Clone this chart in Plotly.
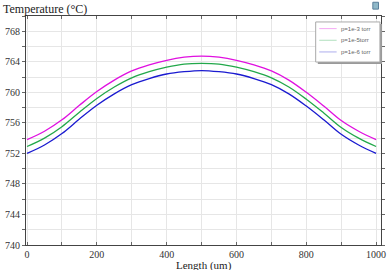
import plotly.graph_objects as go

length_um = [0, 50, 100, 150, 200, 250, 300, 350, 400, 450, 500,
             550, 600, 650, 700, 750, 800, 850, 900, 950, 1000]
temp_1e3 = [753.8, 754.9, 756.4, 758.3, 760.1, 761.6, 762.8, 763.6, 764.2, 764.6, 764.75,
            764.6, 764.2, 763.6, 762.8, 761.6, 760.0, 758.2, 756.3, 754.9, 753.8]
temp_1e5 = [752.9, 754.0, 755.5, 757.4, 759.2, 760.7, 761.9, 762.7, 763.3, 763.7, 763.8,
            763.7, 763.3, 762.7, 761.9, 760.7, 759.1, 757.3, 755.4, 754.0, 752.9]
temp_1e6 = [752.0, 753.1, 754.6, 756.5, 758.3, 759.8, 761.0, 761.8, 762.4, 762.7, 762.85,
            762.7, 762.4, 761.8, 761.0, 759.8, 758.2, 756.4, 754.5, 753.1, 752.0]
series_names = ["p=1e-3 torr", "p=1e-5torr", "p=1e-6 torr"]
series_colors = ["#e010e0", "#22a84a", "#1a1ad0"]
y_ticks = [740, 744, 748, 752, 756, 760, 764, 768]
x_ticks = [0, 200, 400, 600, 800, 1000]

fig = go.Figure()
for name, col, vals in zip(series_names, series_colors, [temp_1e3, temp_1e5, temp_1e6]):
    fig.add_trace(go.Scatter(x=length_um, y=vals, mode="lines", name=name, showlegend=False,
                             line=dict(color=col, width=1.3, shape="spline", smoothing=1.0)))

serif = "Liberation Serif"
fig.update_layout(
    width=389, height=270,
    margin=dict(l=26, r=4, t=16, b=25),
    paper_bgcolor="white", plot_bgcolor="white",
    font=dict(family=serif, size=10, color="#333333"),
    showlegend=False,
    xaxis=dict(range=[-3, 1014], tickvals=x_ticks, ticktext=[str(v) for v in x_ticks],
               showgrid=True, gridcolor="#e6e6e6", gridwidth=1,
               minor=dict(dtick=100, showgrid=True, gridcolor="#e6e6e6", ticks="inside", ticklen=3, tickcolor="#666"),
               ticks="inside", ticklen=3, tickcolor="#666",
               showline=True, linecolor="#444444", linewidth=1, mirror="ticks",
               zeroline=False, tickfont=dict(family=serif, size=10, color="#333333")),
    yaxis=dict(range=[740, 770], tickvals=y_ticks,
               showgrid=True, gridcolor="#e6e6e6", gridwidth=1,
               minor=dict(dtick=2, showgrid=True, gridcolor="#e6e6e6", ticks="outside", ticklen=3, tickcolor="#666"),
               ticks="outside", ticklen=3, tickcolor="#666",
               showline=True, linecolor="#444444", linewidth=1, mirror="ticks",
               zeroline=False, tickfont=dict(family=serif, size=10, color="#333333")),
)

# custom compact legend (box, shadow, samples, labels) in paper coordinates
lx0, lx1, ly0, ly1 = 0.816, 0.997, 0.799, 0.974
fig.add_shape(type="rect", xref="paper", yref="paper", x0=lx0 + 0.006, x1=lx1 + 0.006,
              y0=ly0 - 0.009, y1=ly1 - 0.009, line=dict(width=0), fillcolor="#9a9a9a")
fig.add_shape(type="rect", xref="paper", yref="paper", x0=lx0, x1=lx1, y0=ly0, y1=ly1,
              line=dict(color="#aaaaaa", width=1), fillcolor="white")
rows_y = [0.945, 0.894, 0.843]
for name, col, ry in zip(series_names, series_colors, rows_y):
    fig.add_shape(type="line", xref="paper", yref="paper", x0=0.826, x1=0.875, y0=ry, y1=ry,
                  line=dict(color=col, width=1), opacity=0.35)
    fig.add_annotation(text=name, xref="paper", yref="paper", x=0.882, y=ry, xanchor="left",
                       yanchor="middle", showarrow=False,
                       font=dict(family="Liberation Sans", size=6, color="#666666"))

# small toolbar-like icon at top right
fig.add_shape(type="rect", xref="paper", yref="paper", x0=0.977, x1=0.993, y0=1.03, y1=1.06,
              line=dict(color="#5a7f9a", width=1), fillcolor="#8fb8c8")

fig.add_annotation(text="Temperature (°C)", xref="paper", yref="paper", x=-0.07, y=1.0,
                   xanchor="left", yanchor="bottom", yshift=-2, showarrow=False,
                   font=dict(family=serif, size=12, color="#222222"))
fig.add_annotation(text="Length (um)", xref="paper", yref="paper", x=0.5, y=0, yshift=-12,
                   xanchor="center", yanchor="top", showarrow=False,
                   font=dict(family=serif, size=11, color="#222222"))
fig.write_html("out.html")
